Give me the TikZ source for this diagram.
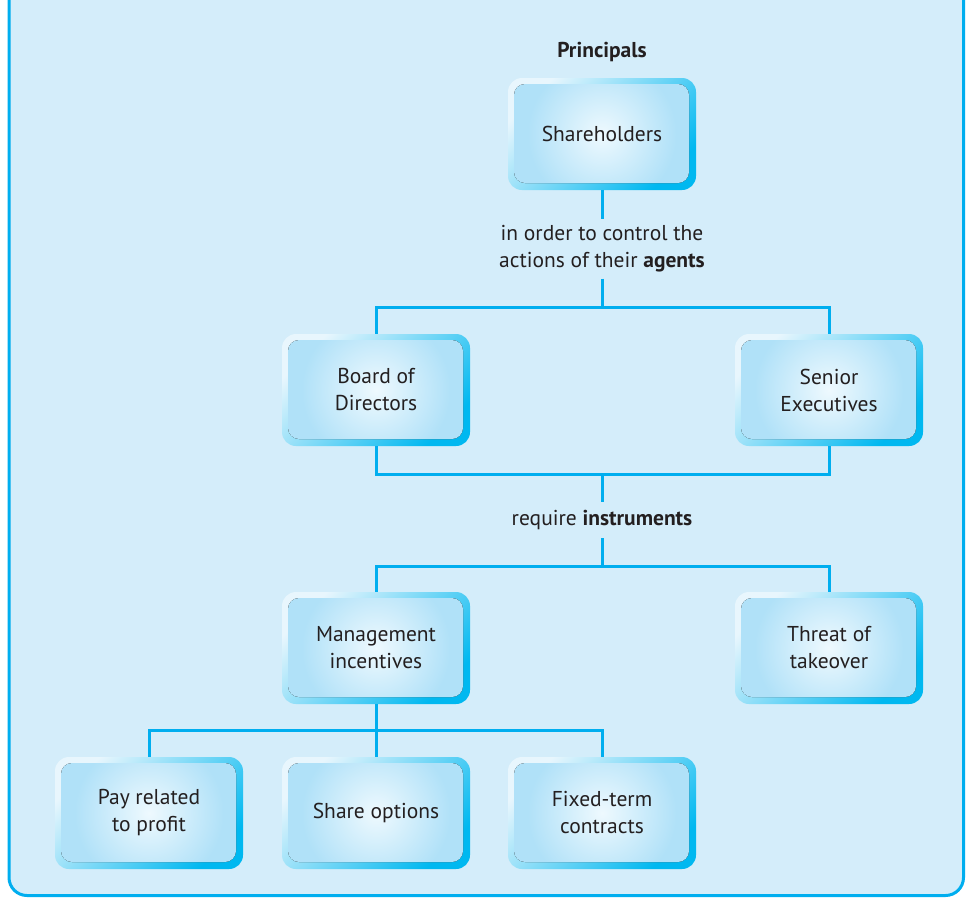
\documentclass[tikz,border=0pt]{standalone}
\usepackage{fontspec}
\setmainfont{PT Sans}
\usetikzlibrary{calc}
\definecolor{bgblue}{RGB}{212,237,250}
\definecolor{linecyan}{RGB}{0,174,239}
\definecolor{rimpale}{RGB}{232,246,253}
\definecolor{rimcyan}{RGB}{0,184,240}
\definecolor{fillin}{RGB}{238,249,254}
\definecolor{fillout}{RGB}{176,225,248}
\definecolor{txt}{RGB}{35,31,32}
\tikzset{
  conn/.style={draw=linecyan, line width=3pt},
  boxnode/.style={rectangle, rounded corners=14pt, minimum width=188pt, minimum height=112pt,
    align=center, text=txt, font=\fontsize{21.5}{27}\selectfont,
    top color=rimpale, bottom color=rimcyan, shading angle=45,
    path picture={\fill[rounded corners=11pt, inner color=fillin, outer color=fillout]
      ([xshift=6pt,yshift=-6pt]path picture bounding box.north west) rectangle
      ([xshift=-7pt,yshift=7pt]path picture bounding box.south east);}},
  lbl/.style={align=center, text=txt, font=\fontsize{21.5}{27}\selectfont, inner sep=6pt}
}
\begin{document}
\begin{tikzpicture}[x=1pt,y=-1pt]
\useasboundingbox (0,0) rectangle (967,898);
\fill[white] (0,0) rectangle (967,898);
\begin{scope}
\clip (0,0) rectangle (967,898);
\draw[line width=3pt, draw=linecyan, fill=bgblue, rounded corners=18pt] (9,-40) rectangle (963.5,895.5);
\end{scope}

\node[lbl, font=\fontsize{21.5}{27}\selectfont\bfseries] (pr) at (602,52) {Principals};
\node[boxnode] (sh) at (602,134) {Shareholders};
\node[lbl] (t1) at (602,249) {in order to control the\\actions of their \textbf{agents}};
\coordinate (j1) at (602,307);
\node[boxnode] (bd) at (376,390) {Board of\\Directors};
\node[boxnode] (se) at (829,390) {Senior\\Executives};
\coordinate (j2) at (602,474);
\node[lbl, inner sep=8pt] (t2) at (602,520) {require \textbf{instruments}};
\coordinate (j3) at (602,566);
\node[boxnode] (mi) at (376,648) {Management\\incentives};
\node[boxnode] (tt) at (829,648) {Threat of\\takeover};
\coordinate (j4) at (376,730);
\node[boxnode] (po) at (149,813) {Pay related\\to profit};
\node[boxnode] (so) at (376,813) {Share options};
\node[boxnode] (fc) at (602,813) {Fixed-term\\contracts};

\draw[conn] (sh.south) -- (t1.north);
\draw[conn] (t1.south) -- (j1);
\draw[conn] (bd.north) |- (j1) -| (se.north);
\draw[conn] (bd.south) |- (j2) -| (se.south);
\draw[conn] (j2) -- (t2.north);
\draw[conn] (t2.south) -- (j3);
\draw[conn] (mi.north) |- (j3) -| (tt.north);
\draw[conn] (mi.south) -- (so.north);
\draw[conn] (po.north) |- (j4) -| (fc.north);
\end{tikzpicture}
\end{document}
